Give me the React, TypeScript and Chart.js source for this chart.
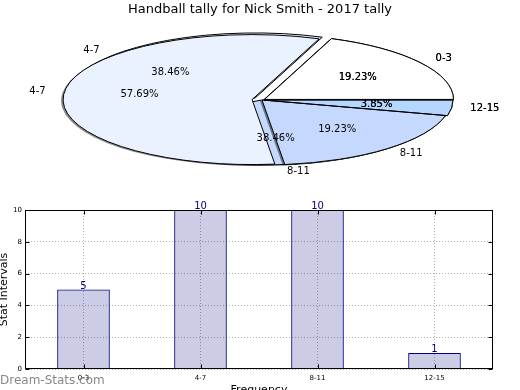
import React, { useEffect, useRef } from 'react';
import { Chart, registerables } from 'chart.js';

Chart.register(...registerables);

const TITLE = 'Handball tally for Nick Smith - 2017 tally';
const categories = ['0-3', '4-7', '8-11', '12-15'];
const tallies = [5, 10, 10, 1];
// the reference draws a second, overlapping pie with these shares
const overlayTallies = [5, 15, 5, 1];
const sliceColors = ['#FFFFFF', '#EBF2FF', '#C5D9FF', '#B4D6FF'];
const tallyExplode = [3, 9, 0, 2];
const overlayExplode = [3, 10, 0, 2];
const yTickValues = [0, 2, 4, 6, 8, 10];
const Y_TITLE = 'Stat Intervals';
const X_TITLE = 'Frequency';
const WATERMARK = 'Dream-Stats.com';

const FONT = "'DejaVu Sans', sans-serif";
const RX = 189;
const RY = 65;
const K = RY / RX;

const rev = <T,>(a: T[]): T[] => [...a].reverse();

Chart.defaults.font.family = FONT;
Chart.defaults.color = '#000';

function center(chart: any) {
  const ca = chart.chartArea;
  return { cx: (ca.left + ca.right) / 2, cy: (ca.top + ca.bottom) / 2 };
}

const piePlugin = {
  id: 'ellipsePie',
  afterUpdate(chart: any) {
    const { cx, cy } = center(chart);
    chart.data.datasets.forEach((ds: any, d: number) => {
      const meta = chart.getDatasetMeta(d);
      meta.data.forEach((arc: any, i: number) => {
        const mid = (arc.startAngle + arc.endAngle) / 2;
        const e = ds.explode[i] || 0;
        arc.x = cx + e * Math.cos(mid);
        arc.y = cy + e * Math.sin(mid);
        arc.outerRadius = RX;
        arc.innerRadius = 0;
      });
    });
  },
  beforeDatasetDraw(chart: any) {
    const ctx = chart.ctx;
    const { cx, cy } = center(chart);
    ctx.save();
    ctx.translate(cx, cy);
    ctx.scale(1, K);
    ctx.translate(-cx, -cy);
    ctx.shadowColor = 'rgba(0,0,0,0.45)';
    ctx.shadowOffsetX = -2;
    ctx.shadowOffsetY = 1;
    ctx.shadowBlur = 0;
  },
  afterDatasetDraw(chart: any, args: any) {
    const ctx = chart.ctx;
    ctx.restore();
    const { cy } = center(chart);
    ctx.save();
    ctx.strokeStyle = '#000';
    ctx.lineWidth = 1;
    ctx.lineJoin = 'miter';
    args.meta.data.forEach((arc: any) => {
      const ox = arc.x;
      const oy = cy + (arc.y - cy) * K;
      ctx.beginPath();
      ctx.moveTo(ox, oy);
      ctx.ellipse(ox, oy, RX, RY, 0, arc.startAngle, arc.endAngle);
      ctx.closePath();
      ctx.stroke();
    });
    ctx.restore();
  },
  afterDatasetsDraw(chart: any) {
    const ctx = chart.ctx;
    const { cy } = center(chart);
    ctx.save();
    ctx.font = `10px ${FONT}`;
    ctx.fillStyle = '#000';
    ctx.textBaseline = 'middle';
    chart.data.datasets.forEach((ds: any, d: number) => {
      const meta = chart.getDatasetMeta(d);
      const total = ds.data.reduce((a: number, b: number) => a + b, 0);
      meta.data.forEach((arc: any, i: number) => {
        const mid = (arc.startAngle + arc.endAngle) / 2;
        const c = Math.cos(mid);
        const s = Math.sin(mid);
        const ox = arc.x;
        const oy = cy + (arc.y - cy) * K;
        ctx.textAlign = c > 0 ? 'left' : 'right';
        ctx.fillText(chart.data.labels[i], ox + 1.1 * RX * c, oy + 1.1 * RY * s);
        ctx.textAlign = 'center';
        ctx.fillText(((ds.data[i] / total) * 100).toFixed(2) + '%', ox + 0.6 * RX * c, oy + 0.6 * RY * s);
      });
    });
    ctx.restore();
  },
};

const framePlugin = {
  id: 'frame',
  afterDatasetsDraw(chart: any) {
    const ctx = chart.ctx;
    const ca = chart.chartArea;
    const xs = chart.scales.x;
    const ys = chart.scales.y;
    ctx.save();
    ctx.strokeStyle = '#000';
    ctx.lineWidth = 1;
    const L = Math.round(ca.left) + 0.5;
    const R = Math.round(ca.right) - 0.5;
    const T = Math.round(ca.top) + 0.5;
    const B = Math.round(ca.bottom) - 0.5;
    ctx.strokeRect(L, T, R - L, B - T);
    ctx.beginPath();
    yTickValues.forEach((v) => {
      const y = Math.round(ys.getPixelForValue(v)) + 0.5;
      ctx.moveTo(L, y); ctx.lineTo(L + 4, y);
      ctx.moveTo(R, y); ctx.lineTo(R - 4, y);
    });
    categories.forEach((_, i) => {
      const x = Math.round(xs.getPixelForValue(i)) + 0.5;
      ctx.moveTo(x, B); ctx.lineTo(x, B - 4);
      ctx.moveTo(x, T); ctx.lineTo(x, T + 4);
    });
    ctx.stroke();
    // value labels
    const meta = chart.getDatasetMeta(0);
    ctx.font = `10px ${FONT}`;
    ctx.fillStyle = '#000080';
    ctx.textAlign = 'center';
    ctx.textBaseline = 'alphabetic';
    meta.data.forEach((bar: any, i: number) => {
      ctx.fillText(String(chart.data.datasets[0].data[i]), bar.x, bar.y - 1);
    });
    ctx.restore();
  },
  afterDraw(chart: any) {
    const ctx = chart.ctx;
    ctx.save();
    ctx.font = `12px ${FONT}`;
    ctx.fillStyle = 'rgba(115,115,115,0.85)';
    ctx.textAlign = 'left';
    ctx.textBaseline = 'alphabetic';
    ctx.fillText(WATERMARK, 0, 384);
    ctx.restore();
  },
};

export default function App() {
  const barRef = useRef<HTMLCanvasElement>(null);
  const pieRef = useRef<HTMLCanvasElement>(null);

  useEffect(() => {
    const bar = new Chart(barRef.current as HTMLCanvasElement, {
      type: 'bar',
      data: {
        labels: categories,
        datasets: [
          {
            data: tallies,
            backgroundColor: 'rgba(0,0,128,0.2)',
            borderColor: '#000080',
            borderWidth: 1,
            barPercentage: 0.45,
            categoryPercentage: 1,
            yAxisID: 'y',
          },
        ],
      },
      options: {
        animation: false,
        responsive: false,
        events: [],
        layout: { padding: { left: 0, right: 0, top: 0, bottom: 0 } },
        plugins: {
          legend: { display: false },
          tooltip: { enabled: false },
          title: {
            display: true,
            text: TITLE,
            color: '#000',
            font: { family: FONT, size: 13, weight: 'normal' },
            padding: { top: 2, bottom: 210 - 2 - 15.6 },
          },
        },
        scales: {
          x: {
            grid: { offset: false, drawTicks: false, color: '#b0b0b0', lineWidth: 1 },
            border: { display: false, dash: [1, 2] },
            ticks: { font: { size: 7 }, padding: 5, color: '#000', maxRotation: 0, autoSkip: false },
            title: { display: true, text: X_TITLE, font: { size: 11 }, color: '#000', padding: { top: 0, bottom: 3 } },
            afterFit: (s: any) => { s.height = 400 - 369; },
          },
          y: {
            min: 0,
            max: 10,
            afterBuildTicks: (s: any) => { s.ticks = yTickValues.map((v) => ({ value: v })); },
            ticks: { font: { size: 7 }, padding: 3, color: '#000' },
            grid: { drawTicks: false, color: '#b0b0b0', lineWidth: 1 },
            border: { display: false, dash: [1, 2] },
            title: { display: true, text: Y_TITLE, font: { size: 11 }, color: '#000', padding: { top: -2, bottom: 0 } },
            afterFit: (s: any) => { s.width = 25; },
          },
          yRight: {
            position: 'right',
            display: true,
            min: 0,
            max: 10,
            ticks: { display: false },
            grid: { display: false, drawTicks: false },
            border: { display: false },
            afterFit: (s: any) => { s.width = 27; },
          },
        },
      } as any,
      plugins: [framePlugin],
    });

    const pie = new Chart(pieRef.current as HTMLCanvasElement, {
      type: 'pie',
      data: {
        labels: rev(categories),
        datasets: [
          { data: rev(overlayTallies), backgroundColor: rev(sliceColors), borderWidth: 0, clip: false, explode: rev(overlayExplode) } as any,
          { data: rev(tallies), backgroundColor: rev(sliceColors), borderWidth: 0, clip: false, explode: rev(tallyExplode) } as any,
        ],
      },
      options: {
        animation: false,
        responsive: false,
        events: [],
        rotation: 90,
        layout: { padding: { left: 4, right: 0, top: 0, bottom: 0 } },
        plugins: { legend: { display: false }, tooltip: { enabled: false }, title: { display: false } },
      } as any,
      plugins: [piePlugin],
    });

    return () => {
      bar.destroy();
      pie.destroy();
    };
  }, []);

  return (
    <div style={{ position: 'fixed', left: 0, top: 0, width: 520, height: 390, overflow: 'hidden', background: '#fff' }}>
      <canvas ref={barRef} width={520} height={400} style={{ position: 'absolute', left: 0, top: 0 }} />
      <canvas ref={pieRef} width={520} height={200} style={{ position: 'absolute', left: 0, top: 0 }} />
    </div>
  );
}
